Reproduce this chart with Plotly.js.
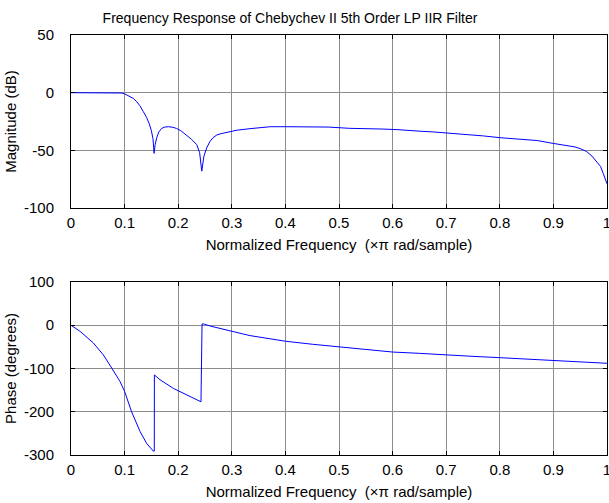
<!DOCTYPE html>
<html>
<head>
<meta charset="utf-8">
<script src="https://cdn.plot.ly/plotly-3.0.1.min.js"></script>
<style>html,body{margin:0;padding:0;background:#fff;}#chart{width:609px;height:503px;}</style>
</head>
<body>
<div id="chart"></div>
<script>
// Normalized frequency (x pi rad/sample) and magnitude (dB)
const magFreq = [0, 0.05, 0.09, 0.095, 0.1, 0.105, 0.111, 0.116, 0.122, 0.128, 0.135, 0.141, 0.146, 0.15, 0.153, 0.155, 0.157, 0.16, 0.164, 0.169, 0.175, 0.182, 0.19, 0.197, 0.205, 0.216, 0.225, 0.2345, 0.24, 0.244, 0.248, 0.253, 0.259, 0.265, 0.272, 0.28, 0.29, 0.31, 0.334, 0.35, 0.372, 0.4, 0.45, 0.48, 0.52, 0.554, 0.58, 0.608, 0.63, 0.655, 0.675, 0.695, 0.72, 0.75, 0.77, 0.8, 0.83, 0.85, 0.87, 0.9, 0.92, 0.94, 0.95, 0.962, 0.972, 0.981, 0.988, 0.993, 0.997, 1.0];
const magDb = [0, 0, 0, -0.3, -1, -2, -3.3, -4.9, -7.5, -11, -16.5, -21.5, -27, -33, -40, -52.6, -45, -39, -34, -31, -29.8, -29.5, -30, -31, -33, -36.7, -40.5, -45, -52, -68, -55, -48, -42.5, -39, -36.7, -35.5, -34.4, -32.5, -31.2, -30.5, -29.5, -29.5, -29.5, -29.8, -30.9, -31, -31.5, -32, -33, -33.5, -34, -34.7, -35.5, -36.3, -37.5, -39, -40, -40.5, -41.5, -44, -45.5, -47, -48.5, -51, -55, -59.8, -64, -70, -75, -79];

// Phase (degrees)
const phFreq = [0, 0.0168, 0.0416, 0.06, 0.076, 0.0914, 0.1, 0.113, 0.129, 0.141, 0.1535, 0.1554, 0.1556, 0.166, 0.191, 0.21, 0.228, 0.2425, 0.2445, 0.247, 0.26, 0.284, 0.3, 0.334, 0.371, 0.4, 0.45, 0.5, 0.55, 0.6, 0.65, 0.7, 0.75, 0.8, 0.85, 0.9, 0.95, 1.0];
const phDeg = [0, -14, -41, -68, -99, -130, -153, -200, -246, -273, -291, -291, -115, -126, -146, -157, -167, -177, 3, 3, -2, -10, -14, -24, -32, -37, -44, -50, -56, -62, -65, -69, -72, -75, -78, -81, -84, -88];

// Tick labels
const xTickVals = [0, 0.1, 0.2, 0.3, 0.4, 0.5, 0.6, 0.7, 0.8, 0.9, 1];
const xTickText = ['0', '0.1', '0.2', '0.3', '0.4', '0.5', '0.6', '0.7', '0.8', '0.9', '1'];
const magTicks = [-100, -50, 0, 50];
const magTickText = ['-100', '-50', '0', '50'];
const phTicks = [-300, -200, -100, 0, 100];
const phTickText = ['-300', '-200', '-100', '0', '100'];

const titleText = 'Frequency Response of Chebychev II 5th Order LP IIR Filter';
const xLabel = 'Normalized Frequency  (\u00D7\u03C0 rad/sample)';

const FONT = 'Liberation Sans, Arial, Helvetica, sans-serif';
const gridC = 'rgb(140,140,140)';

function xaxisCfg(anchor) {
  return {
    anchor: anchor, range: [0, 1], tickvals: xTickVals, ticktext: xTickText,
    ticks: 'inside', ticklen: 4, tickcolor: '#000', mirror: 'allticks',
    showline: true, linecolor: '#000', linewidth: 1,
    showgrid: true, gridcolor: gridC, gridwidth: 1, zeroline: false,
    tickfont: {family: FONT, size: 15, color: '#000'},
    ticklabelstandoff: 1, ticklabeloverflow: 'allow',
    title: {text: xLabel, font: {family: FONT, size: 15, color: '#000'}, standoff: 9},
    automargin: false, fixedrange: true
  };
}
function yaxisCfg(anchor, domain, range, ticks, tickText, label) {
  return {
    anchor: anchor, domain: domain, range: range, tickvals: ticks, ticktext: tickText,
    ticks: 'inside', ticklen: 4, tickcolor: '#000', mirror: 'allticks',
    showline: true, linecolor: '#000', linewidth: 1,
    showgrid: true, gridcolor: gridC, gridwidth: 1, zeroline: false,
    tickfont: {family: FONT, size: 15, color: '#000'},
    ticklabelstandoff: 13,
    title: {text: label, font: {family: FONT, size: 15, color: '#000'}, standoff: 3},
    automargin: false, fixedrange: true
  };
}

const data = [
  {x: magFreq, y: magDb, type: 'scatter', mode: 'lines', xaxis: 'x', yaxis: 'y',
   line: {color: '#0000ff', width: 1}, hoverinfo: 'skip'},
  {x: phFreq, y: phDeg, type: 'scatter', mode: 'lines', xaxis: 'x2', yaxis: 'y2',
   line: {color: '#0000ff', width: 1}, hoverinfo: 'skip'}
];

const layout = {
  width: 609, height: 503,
  margin: {l: 71, r: 2, t: 35, b: 48, pad: 0},
  paper_bgcolor: '#fff', plot_bgcolor: '#fff',
  showlegend: false,
  font: {family: FONT, size: 15, color: '#000'},
  title: {text: titleText, font: {family: FONT, size: 14, color: '#000'},
          x: 0.4086, xref: 'paper', xanchor: 'center', y: 0.964, yref: 'container', yanchor: 'middle'},
  xaxis: xaxisCfg('y'),
  yaxis: yaxisCfg('x', [0.588, 1], [-100, 50], magTicks, magTickText, 'Magnitude (dB)'),
  xaxis2: xaxisCfg('y2'),
  yaxis2: yaxisCfg('x2', [0, 0.412], [-300, 100], phTicks, phTickText, 'Phase (degrees)')
};

Plotly.newPlot('chart', data, layout, {displayModeBar: false, staticPlot: true});
</script>
</body>
</html>
